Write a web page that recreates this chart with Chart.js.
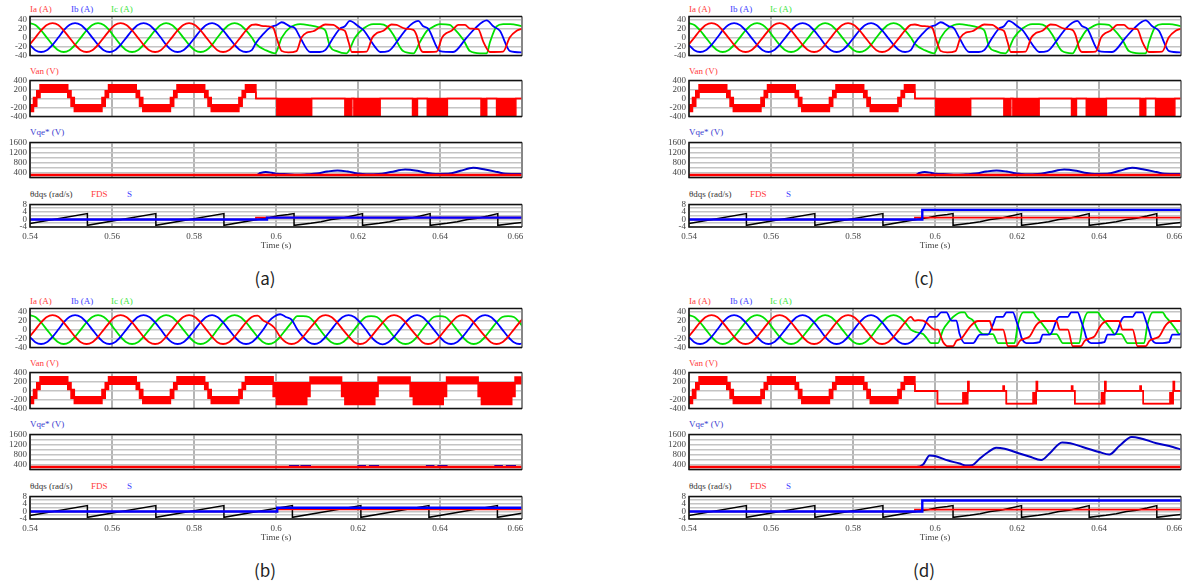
<!DOCTYPE html>
<html lang="en">
<head>
  <meta charset="UTF-8" />
  <title>Inverter fault waveforms (a)-(d)</title>
  <script src="https://cdn.jsdelivr.net/npm/chart.js"></script>
  <style>
    html, body { margin: 0; padding: 0; background: #fff; overflow: hidden; }
    body { width: 1184px; height: 584px; position: relative; }
    canvas { position: absolute; }
    .lbl {
      position: absolute;
      font-family: 'Liberation Serif', 'DejaVu Serif', serif;
      font-size: 9px;
      line-height: 10px;
      white-space: nowrap;
    }
    .cap {
      position: absolute;
      font-family: 'Noto Sans CJK KR', 'Noto Sans', sans-serif;
      font-size: 17px;
      color: #222;
      transform: translate(-50%, -50%);
    }
  </style>
</head>
<body>
  <script>
    // ---- axes ----
    const timeTicks = [0.54, 0.56, 0.58, 0.6, 0.62, 0.64, 0.66];

    // ---- phase currents, sampled every 1/12 cycle (steady state, and panel (b) to the end) ----
    const tGrid = [
      0.5399, 0.5413, 0.5427, 0.5441, 0.5455, 0.5469, 0.5482, 0.5496, 0.5510, 0.5524, 0.5538, 0.5552, 0.5566,
      0.5580, 0.5594, 0.5607, 0.5621, 0.5635, 0.5649, 0.5663, 0.5677, 0.5691, 0.5705, 0.5719, 0.5732,
      0.5746, 0.5760, 0.5774, 0.5788, 0.5802, 0.5816, 0.5830, 0.5844, 0.5857, 0.5871, 0.5885, 0.5899,
      0.5913, 0.5927, 0.5941, 0.5955, 0.5969, 0.5982, 0.5996, 0.6010, 0.6024, 0.6038, 0.6052, 0.6066,
      0.6080, 0.6094, 0.6107, 0.6121, 0.6135, 0.6149, 0.6163, 0.6177, 0.6191, 0.6205, 0.6219, 0.6232,
      0.6246, 0.6260, 0.6274, 0.6288, 0.6302, 0.6316, 0.6330, 0.6344, 0.6357, 0.6371, 0.6385, 0.6399,
      0.6413, 0.6427, 0.6441, 0.6455, 0.6469, 0.6482, 0.6496, 0.6510, 0.6524, 0.6538, 0.6552, 0.6566,
      0.6580, 0.6594, 0.6607
    ];
    const iaSine = [
      -16,
      0, 16, 28, 32, 28, 16, 0, -16, -28, -32, -28, -16,
      0, 16, 28, 32, 28, 16, 0, -16, -28, -32, -28, -16,
      0, 16, 28, 32, 28, 16, 0, -16, -28, -32, -28, -16,
      0, 16, 28, 31, 20, 14, 4, -16, -28, -32, -28, -16,
      0, 15, 28, 32, 28, 16, 0, -15, -28, -32, -28, -16,
      0, 15, 28, 32, 28, 16, 0, -15, -28, -32, -28, -16,
      0, 15, 28, 32, 28, 16, 0, -15, -28, -32, -28, -16,
      0, 16, 28
    ];
    const ibSine = [
      -16,
      -28, -32, -28, -16, 0, 16, 28, 32, 28, 16, 0, -16,
      -28, -32, -28, -16, 0, 16, 28, 32, 28, 16, 0, -16,
      -28, -32, -28, -16, 0, 16, 28, 32, 28, 16, 0, -16,
      -28, -32, -28, -16, 0, 18, 29, 34, 28, 22, 0, -16,
      -28, -32, -28, -16, 0, 16, 28, 32, 28, 16, 0, -16,
      -28, -33, -28, -16, 0, 16, 28, 32, 28, 16, 0, -16,
      -28, -32, -28, -16, 0, 16, 28, 32, 28, 16, 0, -16,
      -28, -32, -28
    ];
    const icSine = [
      32,
      28, 16, 0, -16, -28, -32, -28, -16, 0, 16, 28, 32,
      28, 16, 0, -16, -28, -32, -28, -16, 0, 16, 28, 32,
      28, 16, 0, -16, -28, -32, -28, -16, 0, 16, 28, 32,
      28, 16, 0, -16, -28, -32, -28, -16, 0, 16, 30, 30,
      28, 16, 0, -16, -28, -32, -28, -16, 0, 16, 28, 30,
      28, 16, 0, -16, -28, -32, -28, -16, 0, 16, 28, 30,
      28, 16, 0, -16, -28, -32, -28, -16, 0, 16, 28, 30,
      28, 16, 0
    ];
    const PRE_SAMPLES = 40; // up to t = 0.5941, before the fault

    // post-fault currents [t, A], panels (a) and (c)
    const iaFaultAC = [
      [0.5951, 29], [0.5965, 26], [0.5980, 25], [0.5993, 22], [0.6003, -5], [0.6014, -30], [0.6030, -33],
      [0.6050, -30], [0.6062, 0], [0.6075, 11], [0.6091, 14], [0.6105, 22], [0.6120, 29], [0.6140, 28],
      [0.6156, 19], [0.6168, 15], [0.6177, -10], [0.6185, -32], [0.6221, -31], [0.6235, 0], [0.6246, 10],
      [0.6262, 15], [0.6282, 29], [0.6294, 28], [0.6315, 20], [0.6335, 17], [0.6343, 5], [0.6352, -25],
      [0.6359, -32], [0.6392, -31], [0.6405, 0], [0.6416, 10], [0.6428, 15], [0.6445, 28], [0.6461, 28],
      [0.6473, 20], [0.6493, 19], [0.6506, -10], [0.6522, -32], [0.6554, -31], [0.6570, 0], [0.6587, 15],
      [0.6602, 20]
    ];
    const ibFaultAC = [
      [0.5951, -12], [0.5969, 8], [0.5985, 22], [0.6002, 28], [0.6014, 34], [0.6034, 25], [0.6046, 21],
      [0.6059, 0], [0.6083, -32], [0.6107, -32], [0.6120, -28], [0.6140, 0], [0.6156, 20], [0.6168, 25],
      [0.6180, 37], [0.6201, 25], [0.6213, 17], [0.6241, -20], [0.6254, -32], [0.6274, -30], [0.6302, 0],
      [0.6319, 20], [0.6335, 33], [0.6347, 37], [0.6359, 25], [0.6371, 20], [0.6400, -30], [0.6432, -32],
      [0.6465, 0], [0.6485, 20], [0.6514, 38], [0.6530, 25], [0.6546, 15], [0.6571, -30], [0.6602, -33]
    ];
    const icFaultAC = [
      [0.5951, -14], [0.5975, -28], [0.5998, -35], [0.6014, 0], [0.6034, 22], [0.6059, 30], [0.6083, 27],
      [0.6107, 22], [0.6120, 16], [0.6132, -20], [0.6148, -30], [0.6172, -35], [0.6193, 0], [0.6213, 20],
      [0.6237, 30], [0.6254, 30], [0.6270, 25], [0.6285, 8], [0.6310, -30], [0.6335, -35], [0.6351, -10],
      [0.6368, 15], [0.6376, 20], [0.6400, 30], [0.6424, 28], [0.6432, 22], [0.6457, -5], [0.6473, -30],
      [0.6498, -35], [0.6514, -35], [0.6522, -10], [0.6538, 25], [0.6554, 30], [0.6571, 30], [0.6602, 25]
    ];

    // post-fault currents [t, A], panel (d)
    const iaFaultD = [
      [0.5950, 20], [0.5959, 21], [0.5971, 20], [0.5979, 15], [0.5995, 2], [0.5999, 0], [0.6007, 0],
      [0.6015, -17], [0.6020, -28], [0.6032, -37], [0.6044, -37], [0.6052, -25], [0.6064, -20], [0.6080, 0],
      [0.6089, 10], [0.6105, 19], [0.6133, 19], [0.6141, 0], [0.6166, 0], [0.6178, -37], [0.6198, -37],
      [0.6207, -25], [0.6219, -20], [0.6231, -15], [0.6247, 10], [0.6263, 19], [0.6296, 19], [0.6304, 0],
      [0.6324, 0], [0.6336, -37], [0.6356, -37], [0.6365, -25], [0.6377, -20], [0.6389, -15], [0.6405, 10],
      [0.6421, 19], [0.6449, 19], [0.6457, 0], [0.6482, 0], [0.6494, -37], [0.6514, -37], [0.6523, -25],
      [0.6535, -20], [0.6547, -15], [0.6563, 10], [0.6579, 19], [0.6607, 19]
    ];
    const ibFaultD = [
      [0.5955, -16], [0.5971, 2], [0.5987, 28], [0.6003, 28], [0.6015, 38], [0.6028, 38], [0.6040, 20],
      [0.6052, 20], [0.6060, -10], [0.6072, -30], [0.6093, -30], [0.6105, -15], [0.6109, -11], [0.6129, -11],
      [0.6141, 10], [0.6150, 28], [0.6166, 28], [0.6174, 38], [0.6190, 38], [0.6198, 20], [0.6207, -5],
      [0.6211, -18], [0.6223, -30], [0.6239, -30], [0.6255, -28], [0.6263, -11], [0.6280, -11], [0.6288, 0],
      [0.6296, 20], [0.6304, 28], [0.6324, 28], [0.6332, 38], [0.6348, 38], [0.6356, 20], [0.6365, -5],
      [0.6369, -18], [0.6381, -30], [0.6397, -30], [0.6413, -28], [0.6421, -11], [0.6438, -11], [0.6446, 0],
      [0.6454, 20], [0.6462, 28], [0.6482, 28], [0.6490, 38], [0.6506, 38], [0.6514, 20], [0.6523, -5],
      [0.6527, -18], [0.6539, -30], [0.6555, -30], [0.6571, -28], [0.6579, -11], [0.6596, -11], [0.6607, 0]
    ];
    const icFaultD = [
      [0.5955, -6], [0.5971, -10], [0.5979, -18], [0.5991, -30], [0.6007, -30], [0.6020, 0], [0.6036, 20],
      [0.6044, 28], [0.6064, 38], [0.6072, 38], [0.6080, 28], [0.6093, 20], [0.6105, 0], [0.6117, -10],
      [0.6141, -10], [0.6154, -30], [0.6194, -30], [0.6202, 10], [0.6215, 38], [0.6239, 38], [0.6247, 28],
      [0.6255, 20], [0.6272, 0], [0.6280, -10], [0.6296, -10], [0.6312, -30], [0.6352, -30], [0.6360, 10],
      [0.6373, 38], [0.6397, 38], [0.6405, 28], [0.6413, 20], [0.6430, 0], [0.6438, -10], [0.6454, -10],
      [0.6470, -30], [0.6510, -30], [0.6518, 10], [0.6531, 38], [0.6555, 38], [0.6563, 28], [0.6571, 20],
      [0.6588, 0], [0.6596, -10], [0.6607, -10]
    ];

    // ---- phase voltage Van: PWM band, upper / lower edge from each time on ----
    const vanPreTimes = [
      0.5400, 0.54085, 0.54165, 0.54245, 0.54921, 0.55001, 0.55081, 0.55755, 0.55835, 0.55915, 0.56591,
      0.56671, 0.56751, 0.57425, 0.57505, 0.57585, 0.58261, 0.58341, 0.58421, 0.59095, 0.59175, 0.59255
    ];
    const vanPreHigh = [-140, 20, 170, 305, 170, 20, -140, 20, 170, 305, 170, 20, -140, 20, 170, 305, 170, 20, -140, 20, 170, 305];
    const vanPreLow = [-290, -170, 20, 140, 20, -170, -290, -170, 20, 140, 20, -170, -290, -170, 20, 140, 20, -170, -290, -170, 20, 140];
    // [t, high, low]
    const vanFaultAC = [
      [0.5951, 0, 0], [0.6002, 0, -390], [0.6087, 0, 0], [0.6168, 0, -390], [0.6185, 0, 0], [0.6190, 0, -390],
      [0.6254, 0, 0], [0.6333, 0, -390], [0.6345, 0, 0], [0.6369, 0, -390], [0.6418, 0, 0], [0.6500, 0, -390],
      [0.6514, 0, 0], [0.6538, 0, -390], [0.6585, 0, 0], [0.6600, 0, 0]
    ];
    const vanFaultB = [
      [0.5993, 170, -130], [0.6001, 170, -310], [0.6075, 170, -130], [0.6083, 300, 150],
      [0.6160, 170, -130], [0.6168, 170, -310], [0.6241, 170, -130], [0.6249, 300, 150],
      [0.6327, 170, -130], [0.6335, 170, -310], [0.6408, 170, -130], [0.6416, 300, 150],
      [0.6493, 170, -130], [0.6501, 170, -310], [0.6575, 170, -130], [0.6583, 300, 150],
      [0.6600, 300, 150]
    ];
    const vanFaultD = [
      [0.5951, -8, -14], [0.6006, -285, -295], [0.6068, -50, -295], [0.6080, 200, -10], [0.6083, -5, -12],
      [0.6166, 100, -10], [0.6169, -5, -12], [0.6174, -285, -295], [0.6239, -50, -295], [0.6247, 200, -10],
      [0.6250, -5, -12], [0.6333, 100, -10], [0.6336, -5, -12], [0.6341, -285, -295], [0.6406, -50, -295],
      [0.6414, 200, -10], [0.6417, -5, -12], [0.6500, 100, -10], [0.6503, -5, -12], [0.6508, -285, -295],
      [0.6573, -50, -295], [0.6581, 200, -10], [0.6584, -5, -12], [0.6600, -5, -12]
    ];

    // ---- Vqe* [t, V] ----
    const vqeRef = [[0.54, 300], [0.66, 300]];
    const vqeAC = [
      [0.54, 300], [0.5951, 300], [0.5962, 380], [0.5975, 425], [0.5990, 390], [0.6000, 350], [0.6030, 335],
      [0.6050, 310], [0.6075, 330], [0.6100, 360], [0.6125, 440], [0.6150, 485], [0.6175, 440], [0.6200, 360],
      [0.6220, 330], [0.6250, 340], [0.6280, 420], [0.6315, 525], [0.6345, 470], [0.6370, 380], [0.6390, 345],
      [0.6420, 350], [0.6450, 470], [0.6481, 590], [0.6510, 520], [0.6540, 420], [0.6560, 350], [0.6600, 340]
    ];
    const vqeB = [
      [0.54, 300], [0.6034, 300], [0.6034, 340], [0.6054, 340], [0.6054, 300], [0.6062, 300], [0.6062, 340],
      [0.6083, 340], [0.6083, 300], [0.6201, 300], [0.6201, 340], [0.6217, 340], [0.6217, 300], [0.6229, 300],
      [0.6229, 340], [0.6249, 340], [0.6249, 300], [0.6368, 300], [0.6368, 340], [0.6384, 340], [0.6384, 300],
      [0.6396, 300], [0.6396, 340], [0.6416, 340], [0.6416, 300], [0.6535, 300], [0.6535, 340], [0.6551, 340],
      [0.6551, 300], [0.6563, 300], [0.6563, 340], [0.6583, 340], [0.6583, 300], [0.6600, 300]
    ];
    const vqeD = [
      [0.54, 300], [0.5955, 300], [0.5971, 400], [0.5987, 760], [0.6000, 740], [0.6032, 560], [0.6060, 440],
      [0.6075, 360], [0.6090, 370], [0.6110, 650], [0.6130, 900], [0.6149, 1070], [0.6170, 1030], [0.6195, 900],
      [0.6230, 720], [0.6259, 580], [0.6280, 850], [0.6310, 1280], [0.6330, 1250], [0.6360, 1100], [0.6400, 900],
      [0.6425, 800], [0.6450, 1150], [0.6480, 1500], [0.6500, 1450], [0.6540, 1250], [0.6580, 1100], [0.6600, 1000]
    ];

    // ---- theta_dqs, FDS, S [t, value] ----
    const thetaPre = [
      [0.54, -2.18], [0.5540, 3.1], [0.5540, -3.1], [0.5707, 3.1], [0.5707, -3.1], [0.5873, 3.1],
      [0.5873, -3.1], [0.5951, -0.16]
    ];
    const thetaFaultACD = [
      [0.5985, 1.0], [0.6005, 2.0], [0.6030, 2.6], [0.6044, 3.1], [0.6044, -3.1], [0.6085, -2.0],
      [0.6110, -1.2], [0.6135, 0], [0.6160, 0.6], [0.6185, 1.8], [0.6211, 3.1], [0.6211, -3.1],
      [0.6252, -2.0], [0.6277, -1.2], [0.6302, 0], [0.6327, 0.6], [0.6352, 1.8], [0.6376, 3.1],
      [0.6376, -3.1], [0.6417, -2.0], [0.6442, -1.2], [0.6467, 0], [0.6492, 0.6], [0.6517, 1.8],
      [0.6541, 3.1], [0.6541, -3.1], [0.6582, -2.0], [0.6600, -1.6]
    ];
    const thetaFaultB = [
      [0.6040, 3.1], [0.6040, -3.1], [0.6207, 3.1], [0.6207, -3.1], [0.6373, 3.1], [0.6373, -3.1],
      [0.6540, 3.1], [0.6540, -3.1], [0.6600, -0.9]
    ];
    const fdsA = [[0.54, 0], [0.5951, 0], [0.5951, 1], [0.66, 1]];
    const sA = [[0.54, 0], [0.5978, 0], [0.5978, 1], [0.66, 1]];
    const fdsB = [[0.54, 0], [0.6003, 0], [0.6003, 1.1], [0.66, 1.1]];
    const sB = [[0.54, 0], [0.6003, 0], [0.6003, 2], [0.66, 2]];
    const fdsC = [[0.54, 0], [0.5951, 0], [0.5951, 1], [0.66, 1]];
    const sC = [[0.54, 0], [0.5969, 0], [0.5969, 5.1], [0.66, 5.1]];
    const fdsD = [[0.54, 0], [0.5951, 0], [0.5951, 1], [0.66, 1]];
    const sD = [[0.54, 0], [0.5969, 0], [0.5969, 5.8], [0.66, 5.8]];

    // ---- helpers ----
    const RED = '#ff0000', BLUE = '#0000ff', GREEN = '#00e000';
    const tickFont = { family: 'Liberation Serif', size: 9 };

    const xy = pairs => pairs.map(p => ({ x: p[0], y: p[1] }));
    const sineAll = vals => tGrid.map((t, i) => ({ x: t, y: vals[i] }));
    const sineThen = (vals, fault) =>
      tGrid.slice(0, PRE_SAMPLES).map((t, i) => ({ x: t, y: vals[i] })).concat(xy(fault));
    const vanRows = fault =>
      vanPreTimes.map((t, i) => [t, vanPreHigh[i], vanPreLow[i]]).concat(fault);

    const framePlugin = {
      id: 'frame',
      afterDraw(chart) {
        const { ctx, chartArea: a } = chart;
        ctx.save();
        ctx.lineWidth = 1.5;
        ctx.strokeStyle = '#777';
        ctx.beginPath();
        ctx.moveTo(a.right, a.top);
        ctx.lineTo(a.right, a.bottom);
        ctx.stroke();
        ctx.strokeStyle = '#111';
        ctx.beginPath();
        ctx.moveTo(a.right, a.top);
        ctx.lineTo(a.left, a.top);
        ctx.lineTo(a.left, a.bottom);
        ctx.lineTo(a.right, a.bottom);
        ctx.stroke();
        ctx.restore();
      }
    };

    // the last time label sits inside the plot, as in the original figure
    const timeLabel = v => {
      const s = String(+v.toFixed(2));
      return v > 0.655 ? s + '\u2002\u2002\u2002' : s;
    };

    function addChart(area, yOpt, datasets, withTime) {
      const padTop = 7, padRight = 20, padBottom = withTime ? 2 : 7, yW = 30, xH = withTime ? 24 : 0;
      const c = document.createElement('canvas');
      c.width = yW + area.w + padRight;
      c.height = padTop + area.h + xH + padBottom;
      c.style.left = (area.x - yW) + 'px';
      c.style.top = (area.y - padTop) + 'px';
      document.body.appendChild(c);
      new Chart(c, {
        type: 'line',
        data: { datasets },
        options: {
          responsive: false,
          animation: false,
          layout: { padding: { top: padTop, right: padRight, bottom: padBottom, left: 0 } },
          plugins: { legend: { display: false }, tooltip: { enabled: false } },
          elements: { point: { radius: 0 } },
          scales: {
            x: {
              type: 'linear', min: 0.54, max: 0.66,
              afterBuildTicks: s => { s.ticks = timeTicks.map(v => ({ value: v })); },
              afterFit: s => { s.height = xH; },
              grid: { color: '#b4b4b4', lineWidth: 2, drawTicks: false },
              border: { display: false },
              ticks: {
                display: withTime, padding: 4, maxRotation: 0, autoSkip: false,
                color: '#444', font: tickFont, callback: timeLabel
              },
              title: {
                display: withTime, text: 'Time (s)', color: '#444', font: tickFont,
                padding: { top: 0, bottom: 0 }
              }
            },
            y: {
              type: 'linear', min: yOpt.min, max: yOpt.max,
              afterBuildTicks: s => { s.ticks = yOpt.grid.map(v => ({ value: v })); },
              afterFit: s => { s.width = yW; },
              grid: { color: '#c4c4c4', lineWidth: 1.5, drawTicks: false },
              border: { display: false },
              ticks: {
                padding: 3, color: '#444', font: tickFont, autoSkip: false,
                callback: v => (yOpt.labels.includes(v) ? String(v) : '')
              }
            }
          }
        },
        plugins: [framePlugin]
      });
    }

    function addText(x, y, text, color, cls) {
      const d = document.createElement('div');
      d.className = cls || 'lbl';
      d.style.left = x + 'px';
      d.style.top = y + 'px';
      d.style.color = color;
      d.textContent = text;
      document.body.appendChild(d);
    }

    const curLine = (data, color) => ({
      data, borderColor: color, borderWidth: 1.8, cubicInterpolationMode: 'monotone', fill: false
    });
    const flatLine = (data, color, w) => ({ data, borderColor: color, borderWidth: w, fill: false });

    const panels = [
      {
        tag: '(a)', x: 30, y0: 0,
        ia: sineThen(iaSine, iaFaultAC), ib: sineThen(ibSine, ibFaultAC), ic: sineThen(icSine, icFaultAC),
        van: vanRows(vanFaultAC), vqe: vqeAC, theta: thetaPre.concat(thetaFaultACD), fds: fdsA, s: sA
      },
      {
        tag: '(c)', x: 689, y0: 0,
        ia: sineThen(iaSine, iaFaultAC), ib: sineThen(ibSine, ibFaultAC), ic: sineThen(icSine, icFaultAC),
        van: vanRows(vanFaultAC), vqe: vqeAC, theta: thetaPre.concat(thetaFaultACD), fds: fdsC, s: sC
      },
      {
        tag: '(b)', x: 30, y0: 292,
        ia: sineAll(iaSine), ib: sineAll(ibSine), ic: sineAll(icSine),
        van: vanRows(vanFaultB), vqe: vqeB, theta: thetaPre.concat(thetaFaultB), fds: fdsB, s: sB
      },
      {
        tag: '(d)', x: 689, y0: 292,
        ia: sineThen(iaSine, iaFaultD), ib: sineThen(ibSine, ibFaultD), ic: sineThen(icSine, icFaultD),
        van: vanRows(vanFaultD), vqe: vqeD, theta: thetaPre.concat(thetaFaultACD), fds: fdsD, s: sD
      }
    ];

    const W = 492;
    panels.forEach(p => {
      const x = p.x, y0 = p.y0;

      addText(x, y0 + 4, 'Ia (A)', '#ff3c3c');
      addText(x + 41, y0 + 4, 'Ib (A)', '#3c3cff');
      addText(x + 81, y0 + 4, 'Ic (A)', '#3ce63c');
      addChart({ x, y: y0 + 15, w: W, h: 42 },
        { min: -40, max: 47, grid: [-40, -20, 0, 20, 40], labels: [-40, -20, 0, 20, 40] },
        [curLine(p.ia, RED), curLine(p.ib, BLUE), curLine(p.ic, GREEN)], false);

      addText(x, y0 + 66, 'Van (V)', '#ff3c3c');
      addChart({ x, y: y0 + 79, w: W, h: 39 },
        { min: -400, max: 400, grid: [-400, -200, 0, 200, 400], labels: [-400, -200, 0, 200, 400] },
        [
          { data: p.van.map(r => ({ x: r[0], y: r[1] })), stepped: true, borderColor: RED, borderWidth: 1.5, fill: false },
          { data: p.van.map(r => ({ x: r[0], y: r[2] })), stepped: true, borderColor: RED, borderWidth: 1.5,
            fill: '-1', backgroundColor: RED }
        ], false);

      addText(x, y0 + 127, 'Vqe* (V)', '#3c3cd0');
      addChart({ x, y: y0 + 141, w: W, h: 38 },
        { min: 200, max: 1600, grid: [200, 400, 600, 800, 1000, 1200, 1400, 1600], labels: [400, 800, 1200, 1600] },
        [flatLine(xy(vqeRef), RED, 2.5),
         { data: xy(p.vqe), borderColor: '#0000c8', borderWidth: 2, cubicInterpolationMode: 'monotone', fill: false }],
        false);

      addText(x, y0 + 189, '\u03b8dqs (rad/s)', '#333');
      addText(x + 61, y0 + 189, 'FDS', '#ff3c3c');
      addText(x + 97, y0 + 189, 'S', '#3c3cff');
      addChart({ x, y: y0 + 203, w: W, h: 24 },
        { min: -4, max: 8, grid: [-4, -2, 0, 2, 4, 6, 8], labels: [-4, 0, 4, 8] },
        [flatLine(xy(p.s), BLUE, 2.4), flatLine(xy(p.fds), RED, 1.6), flatLine(xy(p.theta), '#000', 1.5)],
        true);

      addText(x + 235, y0 + 277, p.tag, '#222', 'cap');
    });
  </script>
</body>
</html>
